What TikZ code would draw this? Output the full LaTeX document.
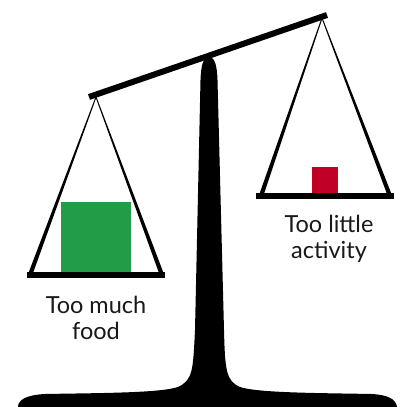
\documentclass[tikz,border=0pt]{standalone}
\usepackage{fontspec}
\setmainfont{Lato}
\usepackage{xcolor}
\usetikzlibrary{positioning}
\definecolor{foodgreen}{HTML}{239C48}
\definecolor{movered}{HTML}{C00027}
\tikzset{
  panbar/.style={line width=6pt},
  beambar/.style={line width=6pt},
  label/.style={font=\fontsize{23.5}{26}\selectfont, align=center, text=black!90}
}

\begin{document}
\begin{tikzpicture}[x=1pt, y=-1pt]
      \useasboundingbox (0,0) rectangle (399,407);

      % hanging points of the pans
      \def\lax{96}  \def\lay{97}
      \def\rax{322} \def\ray{18}
      \def\lbar{275} \def\rbar{196}

      % stand
      \fill (209,57) .. controls (203,57) and (201,66) .. (200.5,80) -- (195,330)
        .. controls (193,370) and (193,380) .. (178,387)
        .. controls (160,393) and (100,393) .. (45,394)
        .. controls (26,395) and (18,400) .. (18,407) -- (397,407)
        .. controls (396,399) and (388,395) .. (372,394)
        .. controls (320,393) and (258,393) .. (240,387)
        .. controls (226,381) and (225,370) .. (224,330) -- (217.5,80)
        .. controls (217,66) and (215,57) .. (209,57) -- cycle;

      % beam
      \draw[beambar] (89,97) -- (327,15);

      % strings, thin at the top and wider at the pan
      \foreach \ax/\ay/\bx/\by in {\lax/\lay/30/\lbar, \lax/\lay/162/\lbar, \rax/\ray/261/\rbar, \rax/\ray/390/\rbar}{
        \fill (\ax-0.5,\ay) -- (\ax+0.5,\ay) -- (\bx+2.3,\by) -- (\bx-2.3,\by) -- cycle;
      }

      % pans
      \draw[panbar] (27,\lbar) -- (165,\lbar);
      \draw[panbar] (256,\rbar) -- (394,\rbar);

      % weights
      \fill[foodgreen] (61,202) rectangle (131,272);
      \fill[movered] (312,167) rectangle (338,193);

      \node[label] (food) at (96,318) {Too much\\food};
      \node[label] (activity) at (329,239) {Too little\\activity};

    \end{tikzpicture}
\end{document}
